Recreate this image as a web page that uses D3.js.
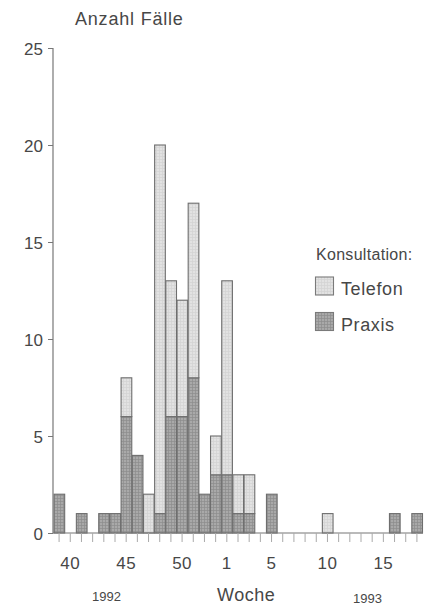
<!DOCTYPE html>
<html><head><meta charset="utf-8">
<script src="https://cdn.jsdelivr.net/npm/d3@7"></script>
<style>
html,body{margin:0;padding:0;background:#fff;}
svg{display:block;}
text{font-family:"Liberation Sans",Arial,sans-serif;fill:#474747;}
</style></head>
<body>
<svg id="chart" width="434" height="606"></svg>
<script>
const weeks = ["39","40","41","42","43","44","45","46","47","48","49","50","51","52","53",
  "1","2","3","4","5","6","7","8","9","10","11","12","13","14","15","16","17","18"];
const praxis  = [2,0,1,0,1,1,6,4,0,1,6,6,8,2,3, 3,1,1,0,2,0,0,0,0,0,0,0,0,0,0,1,0,1];
const telefon = [0,0,0,0,0,0,2,0,2,19,7,6,9,0,2, 10,2,2,0,0,0,0,0,0,1,0,0,0,0,0,0,0,0];
const xTickLabels = ["40","45","50","1","5","10","15"];
const yTicks = [0,5,10,15,20,25];
const seriesNames = ["Telefon","Praxis"];

const svg = d3.select("#chart");
const defs = svg.append("defs");
function gridPattern(id, base, line){
  const p = defs.append("pattern").attr("id", id).attr("patternUnits","userSpaceOnUse")
    .attr("width",3).attr("height",3);
  p.append("rect").attr("width",3).attr("height",3).attr("fill",base);
  p.append("path").attr("d","M0,0.5H3M0.5,0V3").attr("stroke",line).attr("stroke-width",0.7);
}
gridPattern("pPraxis", "#a9a9a9", "#8c8c8c");
gridPattern("pTelefon", "#e2e2e2", "#d2d2d2");
const fills = {Praxis:"url(#pPraxis)", Telefon:"url(#pTelefon)"};

const x = d3.scaleBand().domain(weeks).range([53.5, 422.5]).padding(0);
const y = d3.scaleLinear().domain([0,25]).range([533,48]);

const data = weeks.map((w,i)=>({week:w, Praxis:praxis[i], Telefon:telefon[i]}));
const stack = d3.stack().keys(["Praxis","Telefon"])(data);

const g = svg.append("g");
stack.forEach(layer=>{
  g.selectAll(null).data(layer.filter(d=>d[1]-d[0]>0)).enter().append("rect")
    .attr("x", d=>x(d.data.week)+0.5)
    .attr("width", x.bandwidth()-0.5)
    .attr("y", d=>y(d[1]))
    .attr("height", d=>y(d[0])-y(d[1]))
    .attr("fill", fills[layer.key])
    .attr("stroke", "#6e6e6e").attr("stroke-width", 1.1);
});

// Y axis
const yAxis = svg.append("g").attr("transform","translate(53,0)")
  .call(d3.axisLeft(y).tickValues(yTicks).tickSize(5).tickPadding(5).tickFormat(d3.format("d")));
yAxis.select(".domain").attr("stroke","#777").attr("stroke-width",1.2).attr("d","M0,48V533");
yAxis.selectAll(".tick line").attr("stroke","#777");
yAxis.selectAll(".tick text").style("font-size","17px").attr("fill","#474747")
  .style("font-family","'Liberation Sans',Arial,sans-serif").attr("dy","0.36em");

// X axis
const xAxis = svg.append("g").attr("transform","translate(0,533)")
  .call(d3.axisBottom(x).tickSize(9).tickPadding(15)
    .tickFormat(d=>xTickLabels.includes(d) ? d : ""));
xAxis.select(".domain").attr("stroke","#777").attr("stroke-width",1.2).attr("d","M53,0H423");
xAxis.selectAll(".tick line").attr("stroke","#aaa");
xAxis.selectAll(".tick text").style("font-size","17px").attr("fill","#474747")
  .style("font-family","'Liberation Sans',Arial,sans-serif").style("letter-spacing","0.5px");

// Titles
svg.append("text").attr("x",75).attr("y",25).style("font-size","18px").style("letter-spacing","0.8px").text("Anzahl Fälle");
svg.append("text").attr("x",217).attr("y",601).style("font-size","18px").style("letter-spacing","0.5px").text("Woche");
svg.append("text").attr("x",92).attr("y",601).style("font-size","13px").text("1992");
svg.append("text").attr("x",353).attr("y",603).style("font-size","13px").text("1993");

// Legend
const leg = svg.append("g");
leg.append("text").attr("x",316).attr("y",260).style("font-size","16px").style("letter-spacing","0.3px").text("Konsultation:");
seriesNames.forEach((s,i)=>{
  const yy = 277 + i*35.5;
  leg.append("rect").attr("x",315.5).attr("y",yy).attr("width",18).attr("height",18)
    .attr("fill",fills[s]).attr("stroke","#7a7a7a").attr("stroke-width",1.1);
  leg.append("text").attr("x",341).attr("y",yy+18).style("font-size","18px").style("letter-spacing","0.6px").text(s);
});
</script>
</body></html>
